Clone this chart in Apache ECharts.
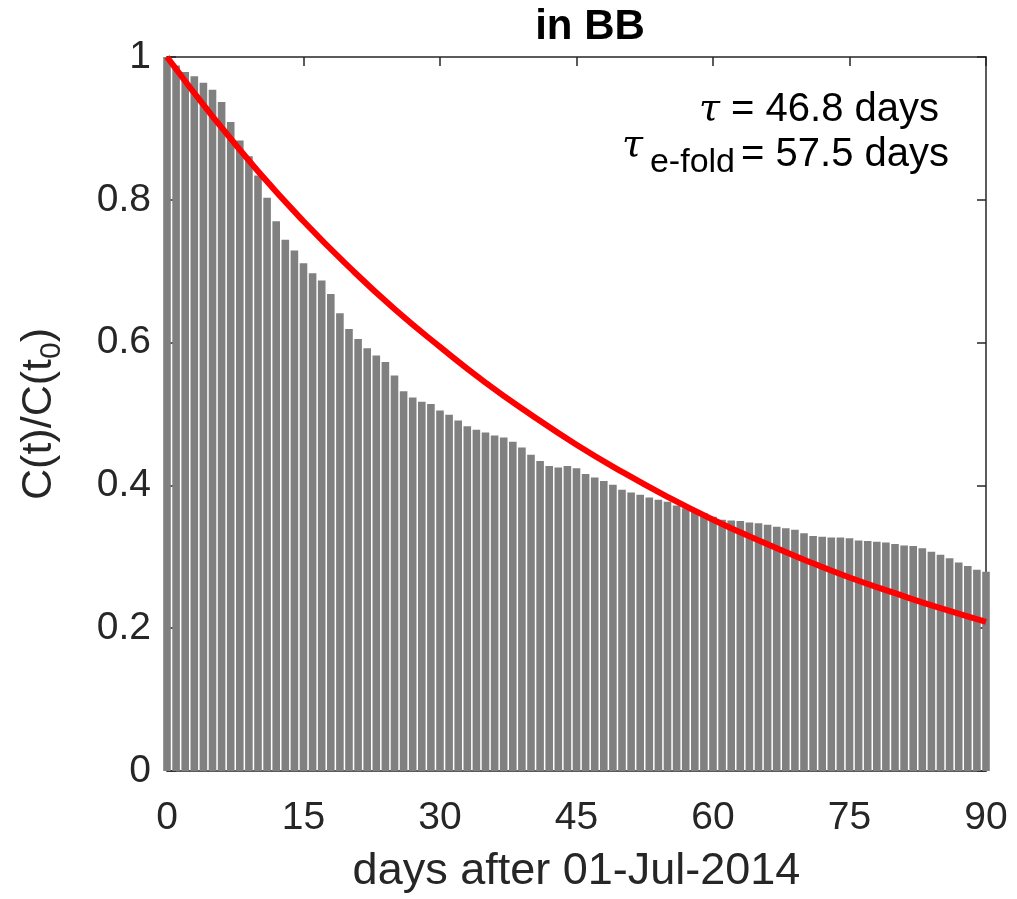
<!DOCTYPE html>
<html>
<head>
<meta charset="utf-8">
<script src="https://cdn.jsdelivr.net/npm/echarts@6/dist/echarts.min.js"></script>
<style>html,body{margin:0;padding:0;background:#fff;}#c{width:1017px;height:899px;}</style>
</head>
<body>
<div id="c"></div>
<script>
// days after 01-Jul-2014
const days = [0,1,2,3,4,5,6,7,8,9,10,11,12,13,14,15,16,17,18,19,20,21,22,23,24,25,26,27,28,29,30,
  31,32,33,34,35,36,37,38,39,40,41,42,43,44,45,46,47,48,49,50,51,52,53,54,55,56,57,58,59,60,
  61,62,63,64,65,66,67,68,69,70,71,72,73,74,75,76,77,78,79,80,81,82,83,84,85,86,87,88,89,90];
// C(t)/C(t0)
const ratio = [1.000,0.988,0.979,0.973,0.964,0.954,0.937,0.909,0.883,0.861,0.834,
  0.803,0.770,0.744,0.729,0.711,0.697,0.687,0.668,0.641,0.619,
  0.605,0.592,0.582,0.573,0.554,0.532,0.523,0.517,0.514,0.505,
  0.499,0.491,0.483,0.478,0.474,0.470,0.467,0.461,0.453,0.443,
  0.434,0.427,0.425,0.427,0.424,0.416,0.411,0.406,0.401,0.394,
  0.390,0.387,0.383,0.380,0.377,0.372,0.368,0.365,0.361,0.356,
  0.352,0.351,0.350,0.348,0.347,0.345,0.342,0.340,0.338,0.333,
  0.329,0.328,0.327,0.327,0.326,0.323,0.322,0.321,0.320,0.318,
  0.316,0.315,0.312,0.307,0.303,0.298,0.292,0.287,0.282,0.279];
// red fitted curve, read at 5-day steps
const fitDays = [0,5,10,15,20,25,30,35,40,45,50,55,60,65,70,75,80,85,90];
const fitVals = [1.000,0.917,0.840,0.770,0.706,0.647,0.594,0.544,0.499,0.457,0.419,0.384,0.352,0.323,0.296,0.271,0.249,0.228,0.209];
const xTicks = [0,15,30,45,60,75,90];
const yTicks = [0,0.2,0.4,0.6,0.8,1];
const titleText = 'in BB';
const xLabel = 'days after 01-Jul-2014';
const tauText = '46.8 days';
const tauEfoldText = '57.5 days';

const FONT = '"Liberation Sans", Arial, Helvetica, sans-serif';
const AX = '#262626';
const chart = echarts.init(document.getElementById('c'), null, {renderer: 'canvas'});

const barData = days.map((d, i) => [d, ratio[i]]);
const fitData = fitDays.map((d, i) => [d, fitVals[i]]);

function axisBase(pos, showLabel) {
  return {
    type: 'value', position: pos, min: xTicks[0], max: xTicks[xTicks.length-1],
    interval: xTicks[1]-xTicks[0],
    axisLine: {show: true, onZero: false, lineStyle: {color: AX, width: 1.5}},
    axisTick: {show: true, inside: true, length: 9, lineStyle: {color: AX, width: 1.5}},
    axisLabel: {show: showLabel, color: AX, fontSize: 39, fontFamily: FONT, margin: 28},
    splitLine: {show: false}
  };
}
function yBase(pos, showLabel) {
  return {
    type: 'value', position: pos, min: yTicks[0], max: yTicks[yTicks.length-1], interval: 0.2,
    axisLine: {show: true, onZero: false, lineStyle: {color: AX, width: 1.5}},
    axisTick: {show: true, inside: true, length: 9, lineStyle: {color: AX, width: 1.5}},
    axisLabel: {show: showLabel, color: AX, fontSize: 39, fontFamily: FONT, margin: 16,
      formatter: v => (v === 0 || v === 1) ? String(v) : v.toFixed(1)},
    splitLine: {show: false}
  };
}

const xb = axisBase('bottom', true);
xb.name = xLabel;
xb.nameLocation = 'middle';
xb.nameGap = 78;
xb.nameTextStyle = {color: AX, fontSize: 45, fontFamily: FONT};
const yl = yBase('left', true);
yl.name = 'C(t)/C(t{sub|0})';
yl.nameLocation = 'middle';
yl.nameRotate = 90;
yl.nameGap = 100;
yl.nameTextStyle = {color: AX, fontSize: 43, fontFamily: FONT,
  rich: {sub: {fontSize: 30, fontFamily: FONT, color: AX, verticalAlign: 'bottom', padding: [26, 0, 0, 0]}}};

chart.setOption({
  backgroundColor: '#fff',
  animation: false,
  grid: {left: 167, right: 31, top: 57, bottom: 121, containLabel: false},
  xAxis: [xb, axisBase('top', false)],
  yAxis: [yl, yBase('right', false)],
  series: [
    {type: 'bar', data: barData, barWidth: 7.6, clip: true,
     itemStyle: {color: '#808080'}, z: 2},
    {type: 'line', data: fitData, smooth: true, showSymbol: false, clip: true,
     lineStyle: {color: '#ff0000', width: 6}, z: 3}
  ],
  graphic: [
    {type: 'text', x: 590, y: 27,
     style: {text: titleText, font: 'bold 42px ' + FONT, fill: '#000', textAlign: 'center', textVerticalAlign: 'middle'}},
    {type: 'text', x: 939, y: 130,
     style: {text: '{it|τ} = ' + tauText, font: '40px ' + FONT, fill: '#000', textAlign: 'right', textVerticalAlign: 'bottom',
       rich: {it: {font: 'italic 38px "DejaVu Serif", serif', fill: '#000'}}}},
    {type: 'text', x: 949, y: 175,
     style: {text: '= ' + tauEfoldText, font: '40px ' + FONT, fill: '#000', textAlign: 'right', textVerticalAlign: 'bottom'}},
    {type: 'text', x: 735, y: 180,
     style: {text: 'e-fold', font: '34px ' + FONT, fill: '#000', textAlign: 'right', textVerticalAlign: 'bottom'}},
    {type: 'text', x: 643, y: 165,
     style: {text: 'τ', font: 'italic 38px "DejaVu Serif", serif', fill: '#000', textAlign: 'right', textVerticalAlign: 'bottom'}}
  ]
});
</script>
</body>
</html>
